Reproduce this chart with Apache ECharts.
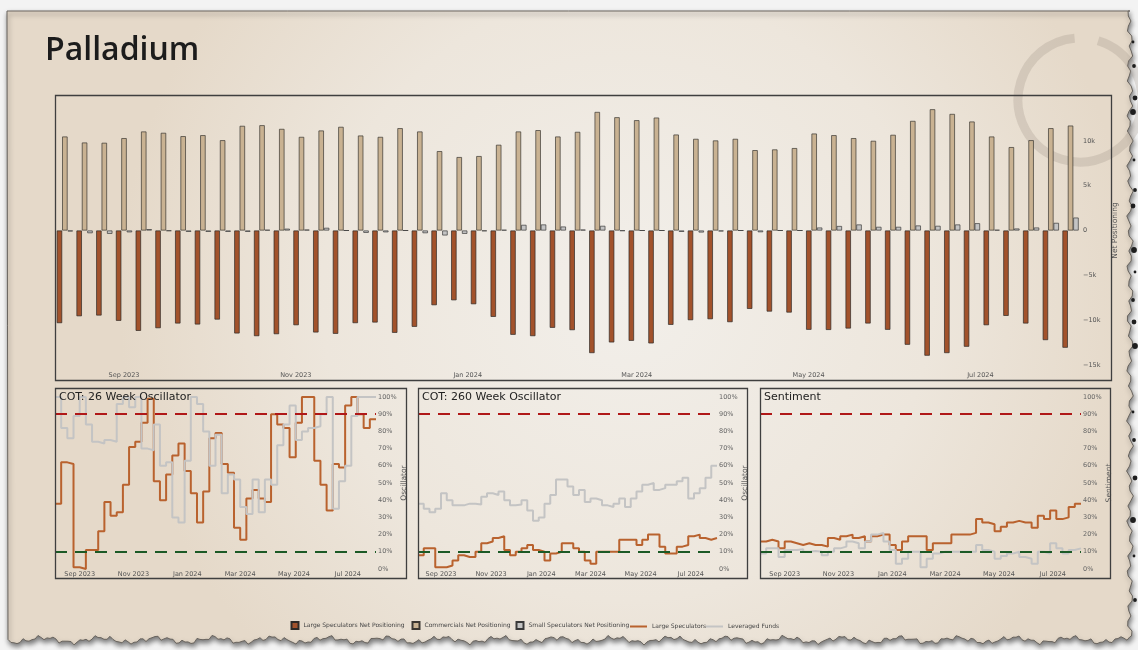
<!DOCTYPE html>
<html><head><meta charset="utf-8">
<style>html,body{margin:0;padding:0;background:#f3f3f3;} #c{width:1138px;height:650px;}</style>
<script src="https://cdn.jsdelivr.net/npm/echarts@6/dist/echarts.min.js"></script>
</head><body><div id="c"></div><script>
// ---------------- DATA ----------------
const weeks = ['2023-08-04','2023-08-11','2023-08-18','2023-08-25','2023-09-01','2023-09-08','2023-09-15','2023-09-22','2023-09-29',
 '2023-10-06','2023-10-13','2023-10-20','2023-10-27','2023-11-03','2023-11-10','2023-11-17','2023-11-24','2023-12-01','2023-12-08',
 '2023-12-15','2023-12-22','2023-12-29','2024-01-05','2024-01-12','2024-01-19','2024-01-26','2024-02-02','2024-02-09','2024-02-16',
 '2024-02-23','2024-03-01','2024-03-08','2024-03-15','2024-03-22','2024-03-29','2024-04-05','2024-04-12','2024-04-19','2024-04-26',
 '2024-05-03','2024-05-10','2024-05-17','2024-05-24','2024-05-31','2024-06-07','2024-06-14','2024-06-21','2024-06-28','2024-07-05',
 '2024-07-12','2024-07-19','2024-07-26','2024-08-02'];
const monthTicks = ['2023-09-01','2023-11-01','2024-01-01','2024-03-01','2024-05-01','2024-07-01'];
const monthLabels = ['Sep 2023','Nov 2023','Jan 2024','Mar 2024','May 2024','Jul 2024'];

// Net positioning (contracts), weekly from 2023-08-11
const largeSpecNet = [-10330,-9560,-9480,-10070,-11190,-10890,-10370,-10480,-9930,-11480,-11780,-11560,-10560,-11370,-11520,-10330,-10260,-11410,-10740,-8330,
 -7780,-8220,-9630,-11630,-11780,-10850,-11110,-13670,-12480,-12300,-12590,-10520,-10000,-9890,-10220,-8740,-9040,-9150,-11070,-11090,
 -10930,-10370,-11070,-12740,-13960,-13670,-12960,-10560,-9520,-10370,-12220,-13070];
const commercialsNet = [10480,9810,9780,10300,11040,10890,10520,10630,10070,11670,11740,11330,10440,11150,11560,10590,10440,11410,11040,8850,
 8190,8300,9560,11040,11190,10480,11000,13220,12630,12300,12590,10700,10220,10040,10220,8960,9040,9190,10810,10630,
 10300,10000,10670,12220,13520,13000,12150,10480,9300,10070,11410,11700];
const smallSpecNet = [-100,-300,-370,-200,150,-50,-150,-150,-150,-150,70,200,100,300,0,-260,-200,0,-300,-550,
 -370,-70,70,630,670,440,100,520,-40,0,0,-150,-220,-100,0,-190,0,0,330,500,
 670,410,410,560,520,670,810,70,220,330,850,1440];

// Oscillators / sentiment (%), one level per week starting 2023-08-04
const cot26Large = [38,62,61,1,0,11,11,22,39,31,33,49,71,74,85,99,51,40,55,66,73,57,44,27,45,76,79,61,56,24,17,41,46,41,39,90,84,82,65,85,100,100,63,49,34,61,59,95,100,90,82,87];
const cot26Lev = [100,82,76,89,100,84,74,73,75,74,96,100,94,100,70,69,84,60,62,30,27,63,100,96,80,60,78,44,55,52,36,32,52,33,52,49,72,84,95,75,80,82,83,90,100,35,51,60,89,100,100,100];
const cot260Large = [8,12,12,1,1,2,5,8,7,7,10,15,16,18,19,11,8,10,12,14,11,10,5,9,10,15,15,12,10,5,3,10,10,10,10,17,17,17,14,17,20,20,13,9,9,13,14,19,20,18,17,18];
const cot260Lev = [38,35,33,35,44,40,37,37,38,38,37.5,42,44,43,45,40,37,37.5,40,34,28,30,38,43,52,52,48,43,46,39,41,40,37,36,38,41,36,41,45,49,50,46,47,49,49,51,53,41,44,47,53,60];
const sentLarge = [16,17,16,12,16,15,14,15,14,14,13,18,17,19,20,18,19,16,19,20,20,14,11,16,19,19,19,11,15,15,15,20,20,20,21,29,27,26,22,24.5,27,28,27,27,24,31,29,34,29,30,36,38];
const sentLev = [9,12,12,7,11,11,11.5,10,10.5,10,8,10,12,13,16,15,12,16,20,21,16,11,3,6,10,10,1,6,9,10,10,10,10,10,10,14,11,10,6,7.5,9,10,7,6,3,10,9,15,12,9,11,12];

const upperBand = 90, lowerBand = 10;
const panelTitles = ['COT: 26 Week Oscillator','COT: 260 Week Oscillator','Sentiment'];
const panelAxisNames = ['Oscillator','Oscillator','Sentiment'];

// ---------------- BUILD ----------------
const DAY = 86400000;
const T = s => { const p = s.split('-').map(Number); return Date.UTC(p[0], p[1]-1, p[2]); };
const weekTs = weeks.map(T);
const barTs = weekTs.slice(1);
const tickTs = monthTicks.map(T);
const monthFmt = v => { const i = tickTs.indexOf(Number(v)); return i >= 0 ? monthLabels[i] : ''; };
const stepData = vals => weekTs.map((t, i) => [t, vals[Math.min(i, vals.length - 1)]]);
const pair = (ts, vals) => vals.map((v, i) => [ts[i], v]);
const kFmt = v => v === 0 ? '0' : (v < 0 ? '\u2212' : '') + Math.abs(v / 1000) + 'k';

const FONT = 'DejaVu Sans';
const C_LARGE = '#a2522b', C_COMM = '#c9b292', C_SMALL = '#c4c4c4';
const C_LLINE = '#b9622e', C_GLINE = '#c4c4c4';

const panels = [
  {left: 55, width: 321, name: panelAxisNames[0], gap: 24, frame: [55, 388, 351, 190], large: cot26Large, lev: cot26Lev},
  {left: 418, width: 299, name: panelAxisNames[1], gap: 24, frame: [418, 388, 329, 190], large: cot260Large, lev: cot260Lev},
  {left: 760, width: 321, name: panelAxisNames[2], gap: 22, frame: [760, 388, 350, 190], large: sentLarge, lev: sentLev}
];

const grid = [{left: 55, top: 96, width: 1024, height: 269}];
const xAxis = [{
  type: 'value', gridIndex: 0, min: T('2023-08-07') + DAY / 2, max: T('2024-08-05'), scale: true,
  axisLine: {show: false}, axisTick: {show: false}, splitLine: {show: false},
  axisLabel: {customValues: tickTs, formatter: monthFmt, fontSize: 6.5, color: '#555', fontFamily: FONT, margin: 7}
}];
const yAxis = [{
  type: 'value', gridIndex: 0, position: 'right', min: -15000, max: 15000, interval: 5000,
  axisLine: {show: false}, axisTick: {show: false}, splitLine: {show: false},
  axisLabel: {formatter: kFmt, fontSize: 6.5, color: '#555', fontFamily: FONT, margin: 4, showMaxLabel: false},
  name: 'Net Positioning', nameLocation: 'middle', nameGap: 24, nameRotate: 90,
  nameTextStyle: {fontSize: 7.5, color: '#555', fontFamily: FONT}
}];
const series = [
  {name: 'Large Speculators Net Positioning', type: 'bar', xAxisIndex: 0, yAxisIndex: 0, barWidth: 5.4, barGap: '0%',
   itemStyle: {color: C_LARGE, borderColor: '#2e2a26', borderWidth: 0.7}, data: pair(barTs, largeSpecNet)},
  {name: 'Commercials Net Positioning', type: 'bar', xAxisIndex: 0, yAxisIndex: 0, barWidth: 5.4, barGap: '0%',
   itemStyle: {color: C_COMM, borderColor: '#3a3631', borderWidth: 0.7}, data: pair(barTs, commercialsNet)},
  {name: 'Small Speculators Net Positioning', type: 'bar', xAxisIndex: 0, yAxisIndex: 0, barWidth: 5.4, barGap: '0%',
   itemStyle: {color: C_SMALL, borderColor: '#3a3a3a', borderWidth: 0.7}, data: pair(barTs, smallSpecNet)}
];

panels.forEach((p, k) => {
  const gi = k + 1;
  grid.push({left: p.left, top: 397, width: p.width, height: 172});
  xAxis.push({
    type: 'value', gridIndex: gi, min: T('2023-08-04'), max: T('2024-08-02'), scale: true,
    axisLine: {show: false}, axisTick: {show: false}, splitLine: {show: false},
    axisLabel: {customValues: tickTs, formatter: monthFmt, fontSize: 6.5, color: '#555', fontFamily: FONT, margin: 2}
  });
  yAxis.push({
    type: 'value', gridIndex: gi, position: 'right', min: 0, max: 100, interval: 10,
    axisLine: {show: false}, axisTick: {show: false}, splitLine: {show: false},
    axisLabel: {formatter: '{value}%', fontSize: 6.5, color: '#666', fontFamily: FONT, margin: 2},
    name: p.name, nameLocation: 'middle', nameGap: p.gap, nameRotate: 90,
    nameTextStyle: {fontSize: 7.5, color: '#555', fontFamily: FONT}
  });
  series.push({
    name: '_bands' + k, type: 'line', xAxisIndex: gi, yAxisIndex: gi, data: [], silent: true,
    markLine: {silent: true, symbol: ['none', 'none'], label: {show: false}, animation: false,
      data: [
        {yAxis: upperBand, lineStyle: {color: '#b01818', width: 2.2, type: [12, 8]}},
        {yAxis: lowerBand, lineStyle: {color: '#1c5a26', width: 2.2, type: [12, 8]}}
      ]}
  });
  series.push({name: 'Large Speculators', type: 'line', step: 'end', xAxisIndex: gi, yAxisIndex: gi, symbol: 'none',
    lineStyle: {color: C_LLINE, width: 2}, itemStyle: {color: C_LLINE}, data: stepData(p.large), z: 3});
  series.push({name: 'Leveraged Funds', type: 'line', step: 'end', xAxisIndex: gi, yAxisIndex: gi, symbol: 'none',
    lineStyle: {color: C_GLINE, width: 2}, itemStyle: {color: C_GLINE}, data: stepData(p.lev), z: 4});
});

// legends (one per entry for exact placement)
const legendItems = [
  {name: 'Large Speculators Net Positioning', left: 290.5, w: 7, h: 7},
  {name: 'Commercials Net Positioning', left: 411.5, w: 7, h: 7},
  {name: 'Small Speculators Net Positioning', left: 515.5, w: 7, h: 7},
  {name: 'Large Speculators', left: 630, w: 17, h: 2},
  {name: 'Leveraged Funds', left: 706, w: 17, h: 2}
];
const legend = legendItems.map(it => {
  const l = {
    data: [{name: it.name, icon: 'rect'}],
    left: it.left, top: 624.5 - it.h / 2, padding: 0, itemWidth: it.w, itemHeight: it.h, itemGap: 0,
    textStyle: {fontSize: 6, color: '#444', fontFamily: FONT}, selectedMode: false
  };
  if (it.h === 2) l.itemStyle = {borderWidth: 0};
  return l;
});

// decorative paper background
function paperPoints() {
  const pts = [[7, 11], [1130, 11]];
  for (let y = 11; y <= 640; y += 5) pts.push([1130 + 2.2 * Math.sin(y * 0.37) + 1.3 * Math.sin(y * 1.13), y]);
  for (let x = 1130; x >= 7; x -= 3) pts.push([x, 640 + 2.4 * Math.sin(x * 0.11) + 1.6 * Math.sin(x * 0.43 + 1) + 1.1 * Math.sin(x * 1.3)]);
  return pts;
}
const graphic = [
  {type: 'polygon', z: -20, silent: true, shape: {points: paperPoints()},
   style: {fill: {type: 'radial', x: 0.55, y: 0.45, r: 0.8, colorStops: [{offset: 0, color: '#f2efea'}, {offset: 0.6, color: '#ede6dc'}, {offset: 1, color: '#e5d9c9'}]},
     stroke: '#6a655f', lineWidth: 1, shadowBlur: 5, shadowColor: 'rgba(0,0,0,0.5)', shadowOffsetY: 3, shadowOffsetX: 1}},
  {type: 'arc', z: -19, silent: true, shape: {cx: 1080, cy: 100, r: 62, startAngle: -73 * Math.PI / 180, endAngle: 265 * Math.PI / 180, clockwise: true},
   style: {stroke: 'rgba(150,140,128,0.25)', lineWidth: 9, fill: null}},
  {type: 'text', z: 10, silent: true, style: {text: 'Palladium', x: 45, y: 51, verticalAlign: 'middle', fontSize: 32, fontWeight: 600, fontFamily: 'Open Sans', fill: '#1c1c1c'}},
  {type: 'rect', z: 10, silent: true, shape: {x: 55.5, y: 95.5, width: 1056, height: 285}, style: {fill: null, stroke: '#3f3f3f', lineWidth: 1.3}}
];
panels.forEach((p, k) => {
  graphic.push({type: 'rect', z: 10, silent: true, shape: {x: p.frame[0] + 0.5, y: p.frame[1] + 0.5, width: p.frame[2], height: p.frame[3]},
    style: {fill: null, stroke: '#3f3f3f', lineWidth: 1.3}});
  graphic.push({type: 'text', z: 10, silent: true, style: {text: panelTitles[k], x: p.frame[0] + 4, y: 397, verticalAlign: 'middle',
    fontSize: 11, fontFamily: FONT, fill: '#222'}});
});
[42, 66, 98, 112, 160, 190, 206, 250, 272, 300, 322, 346, 412, 440, 478, 520, 556, 600].forEach((y, i) => {
  graphic.push({type: 'circle', z: -18, silent: true, shape: {cx: 1133 + (i % 3), cy: y, r: 1.4 + (i % 4) * 0.5}, style: {fill: '#1e1e1e'}});
});

const chart = echarts.init(document.getElementById('c'));
chart.setOption({
  animation: false,
  backgroundColor: '#f3f3f3',
  grid, xAxis, yAxis, series, legend, graphic
});
</script></body></html>
